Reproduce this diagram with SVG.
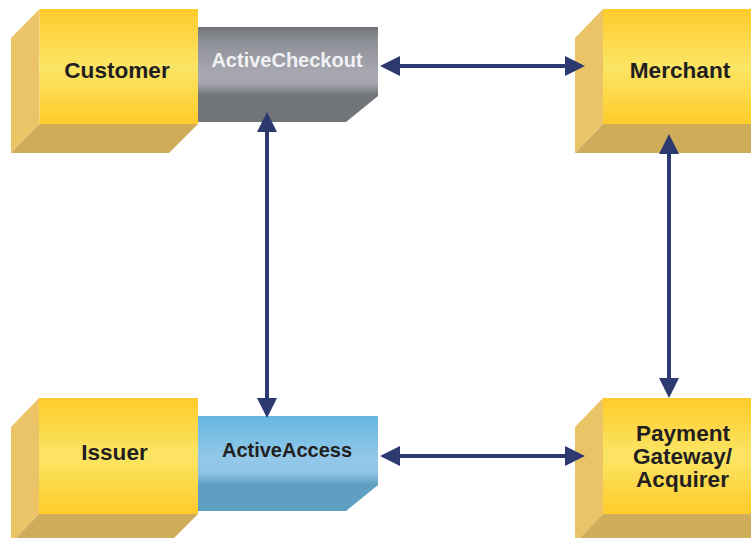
<svg xmlns="http://www.w3.org/2000/svg" width="751" height="538" viewBox="0 0 751 538">
<style>
.side{fill:#ebc468}
.under{fill:#ceac5a}
.front{fill:url(#yellow)}
.t{font-family:"Liberation Sans",Arial,sans-serif;font-weight:700;font-size:22.600px;fill:#231f20;text-anchor:middle}
.s{font-size:20px}
.c{stroke:#2c3a70;stroke-width:4;fill:none;marker-start:url(#hs);marker-end:url(#he)}
</style>
<defs>
<linearGradient id="yellow" x1="0" y1="0" x2="0" y2="1">
<stop offset="0" stop-color="#fecb2a"/><stop offset=".5" stop-color="#fbe565"/><stop offset="1" stop-color="#fecb2a"/>
</linearGradient>
<linearGradient id="gray" x1="0" y1="0" x2="0" y2="1">
<stop offset="0" stop-color="#717479"/><stop offset=".13" stop-color="#8b8d94"/><stop offset=".5" stop-color="#a9a9b3"/><stop offset=".6" stop-color="#a3a3ad"/><stop offset=".72" stop-color="#717479"/><stop offset="1" stop-color="#717479"/>
</linearGradient>
<linearGradient id="blue" x1="0" y1="0" x2="0" y2="1">
<stop offset="0" stop-color="#66b8e0"/><stop offset=".45" stop-color="#93c8ea"/><stop offset=".6" stop-color="#8ec3e5"/><stop offset=".72" stop-color="#5fa0c2"/><stop offset="1" stop-color="#5fa0c2"/>
</linearGradient>
<marker id="he" markerUnits="userSpaceOnUse" markerWidth="20" markerHeight="20" refX="16" refY="10" orient="auto"><path d="M0 0L20 10L0 20z" fill="#2c3a70"/></marker>
<marker id="hs" markerUnits="userSpaceOnUse" markerWidth="20" markerHeight="20" refX="4" refY="10" orient="auto"><path d="M20 0L0 10L20 20z" fill="#2c3a70"/></marker>
</defs>
<g id="activecheckout">
<path d="M198 27H378V96L346 122H198z" fill="url(#gray)"/>
<text class="t s" x="287" y="67" style="fill:#f1f1f3">ActiveCheckout</text>
</g>
<g id="activeaccess">
<path d="M198 416H378V485L346 511H198z" fill="url(#blue)"/>
<text class="t s" x="287" y="457">ActiveAccess</text>
</g>
<g id="customer">
<path class="side" d="M11 38L39.500 9V124L11 153z"/>
<path class="under" d="M11 153L39.500 124H198L169 153z"/>
<rect class="front" x="39.500" y="9" width="158.500" height="115"/>
<text class="t" x="117" y="78">Customer</text>
</g>
<g id="merchant">
<path class="side" d="M575 38L603 9V124L575 153z"/>
<path class="under" d="M575 153L603 124H751V153z"/>
<rect class="front" x="603" y="9" width="148" height="115"/>
<text class="t" x="680" y="78">Merchant</text>
</g>
<g id="issuer">
<path class="side" d="M11 427L39 398V514L11 543z"/>
<path class="under" d="M11 543L39 514H198L169 543z"/>
<rect class="front" x="39" y="398" width="159" height="116"/>
<text class="t" x="114.500" y="460">Issuer</text>
</g>
<g id="payment">
<path class="side" d="M575 427L603 398V514L575 543z"/>
<path class="under" d="M575 543L603 514H751V543z"/>
<rect class="front" x="603" y="398" width="148" height="116"/>
<text class="t" x="683" y="441">Payment</text>
<text class="t" x="682.500" y="464">Gateway/</text>
<text class="t" x="682.500" y="487">Acquirer</text>
</g>
<g id="connectors">
<path class="c" d="M384 66H581"/>
<path class="c" d="M384 456H581"/>
<path class="c" d="M267 116V414"/>
<path class="c" d="M669 138V394"/>
</g>
</svg>
